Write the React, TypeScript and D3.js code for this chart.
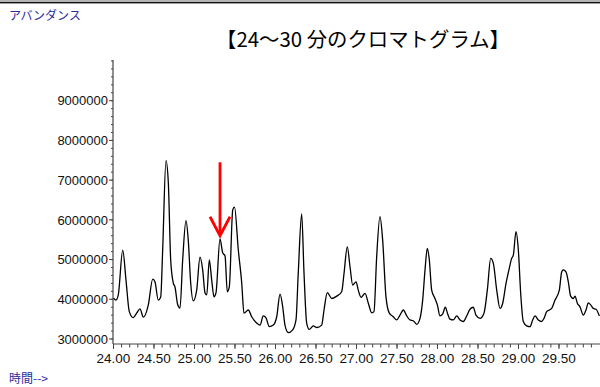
import React from "react";
import * as d3 from "d3";

const W = 600;
const H = 387;

// retention time (min)
const times = [24.000,24.031,24.059,24.114,24.154,24.195,24.244,24.286,24.327,24.368,24.430,24.484,24.512,24.553,24.583,24.607,24.648,24.677,24.706,24.738,24.759,24.793,24.821,24.854,24.895,24.923,24.953,24.985,25.027,25.068,25.101,25.130,25.151,25.183,25.212,25.241,25.265,25.315,25.348,25.377,25.405,25.430,25.472,25.494,25.541,25.583,25.611,25.664,25.706,25.768,25.809,25.849,25.883,25.923,25.973,26.015,26.056,26.089,26.117,26.158,26.212,26.253,26.281,26.323,26.352,26.385,26.417,26.467,26.509,26.570,26.599,26.640,26.694,26.756,26.817,26.846,26.886,26.920,26.953,26.994,27.022,27.056,27.105,27.146,27.188,27.216,27.249,27.290,27.323,27.364,27.405,27.454,27.496,27.537,27.578,27.620,27.660,27.701,27.743,27.784,27.817,27.846,27.874,27.899,27.928,27.969,27.998,28.031,28.064,28.096,28.126,28.154,28.195,28.237,28.278,28.319,28.360,28.401,28.442,28.475,28.525,28.574,28.615,28.657,28.689,28.731,28.772,28.805,28.846,28.886,28.916,28.936,28.969,28.998,29.027,29.059,29.101,29.142,29.175,29.204,29.244,29.286,29.315,29.348,29.410,29.451,29.504,29.533,29.553,29.586,29.615,29.644,29.677,29.698,29.726,29.759,29.800,29.833,29.862,29.891,29.923,29.957,29.998];

// abundance (millions of counts)
const abundanceM = [4.03,3.98,4.11,5.24,4.49,3.69,3.54,3.65,3.76,3.55,3.86,4.51,4.44,3.98,4.06,5.24,7.49,6.93,4.99,4.41,4.31,3.86,3.78,4.99,5.98,5.49,4.41,3.96,4.23,5.06,4.74,4.16,4.11,4.99,4.49,4.06,4.16,5.52,5.17,5.09,4.19,4.32,6.25,6.32,5.24,4.41,3.65,3.73,3.56,3.40,3.35,3.58,3.53,3.31,3.35,3.56,4.13,3.81,3.35,3.16,3.23,3.48,4.66,6.15,4.66,3.40,3.24,3.33,3.29,3.35,3.73,4.17,4.02,4.08,4.19,4.65,5.32,4.82,4.36,4.44,4.23,4.05,4.15,3.90,3.66,3.69,5.07,6.08,5.49,4.06,3.65,3.56,3.48,3.60,3.73,3.58,3.48,3.46,3.37,3.52,3.98,4.74,5.28,4.99,4.23,4.02,3.86,3.58,3.63,3.80,3.63,3.50,3.48,3.58,3.48,3.44,3.58,3.75,3.80,3.60,3.52,3.65,4.23,5.03,4.91,4.23,3.77,3.90,4.40,4.78,5.03,5.11,5.70,5.24,4.15,3.44,3.33,3.31,3.48,3.58,3.48,3.44,3.52,3.69,3.77,3.98,4.23,4.69,4.74,4.69,4.44,4.08,4.02,4.08,3.90,3.81,3.60,3.73,3.91,3.86,3.77,3.75,3.58];

const xMajorTicks = [24.0, 24.5, 25.0, 25.5, 26.0, 26.5, 27.0, 27.5, 28.0, 28.5, 29.0, 29.5];
const xTickLabels = ["24.00","24.50","25.00","25.50","26.00","26.50","27.00","27.50","28.00","28.50","29.00","29.50"];
const yMajorTicks = [3000000, 4000000, 5000000, 6000000, 7000000, 8000000, 9000000];
const yTickLabels = ["3000000","4000000","5000000","6000000","7000000","8000000","9000000"];

const title = "【24～30 分のクロマトグラム】";
const yLabel = "アバンダンス";
const xLabel = "時間-->";

// arrow pointing at the peak of interest
const arrowTime = 25.315;
const arrowTop = 7450000;
const arrowTip = 5600000;

const xDomain = [24, 30];
const yDomain = [2874000, 10000000];

export default function App() {
  const left = 113;
  const right = 599.5;
  const top = 61;
  const bottom = 344;
  const x = d3.scaleLinear().domain(xDomain).range([left + 0.5, right]);
  const y = d3.scaleLinear().domain(yDomain).range([bottom, top]);

  const data = times.map((t, i) => ({ t, v: abundanceM[i] * 1e6 }));
  const line = d3
    .line<{ t: number; v: number }>()
    .x((d) => x(d.t))
    .y((d) => y(d.v))
    .curve(d3.curveMonotoneX);

  const xMinor = d3.range(240, 300).map((k) => k / 10);
  const yMinor = d3.range(15, 51).map((k) => k * 200000);

  const axisColor = "#444";
  const blue = "#2b2b9b";
  const ax = x(arrowTime);
  const aTop = y(arrowTop);
  const aTip = y(arrowTip);

  return (
    <div style={{ position: "absolute", left: 0, top: 0, width: W, height: H, background: "#fff" }}>
      <svg width={W} height={H} style={{ display: "block" }}>
        <rect x={0} y={0} width={W} height={H} fill="#fff" />
        <rect x={0} y={0} width={W} height={2} fill="#b4b4b4" />
        <rect x={0} y={2} width={W} height={1.4} fill="#111" />

        <text x={9} y={20} fontFamily="'Noto Sans CJK JP', sans-serif" fontSize={12} fill={blue}>
          {yLabel}
        </text>
        <text x={9} y={383} fontFamily="'Noto Sans CJK JP', sans-serif" fontSize={12} fill={blue}>
          {xLabel}
        </text>
        <text
          x={363}
          y={47}
          textAnchor="middle"
          fontFamily="'Noto Sans CJK JP', sans-serif"
          fontSize={20.4}
          fill="#000"
        >
          {title}
        </text>

        {/* y axis */}
        <line x1={left} x2={left} y1={top - 1} y2={bottom} stroke={axisColor} strokeWidth={1.2} />
        {yMinor.map((v) => (
          <line key={"ym" + v} x1={left - 2} x2={left} y1={y(v)} y2={y(v)} stroke={axisColor} strokeWidth={1} />
        ))}
        {yMajorTicks.map((v, i) => (
          <g key={"y" + v}>
            <line x1={left - 4} x2={left} y1={y(v)} y2={y(v)} stroke={axisColor} strokeWidth={1} />
            <text
              x={left - 5}
              y={y(v)}
              dy="0.36em"
              textAnchor="end"
              fontFamily="'Liberation Sans', Arial, sans-serif"
              fontSize={13}
              fill="#111"
            >
              {yTickLabels[i]}
            </text>
          </g>
        ))}

        {/* x axis */}
        <line x1={left} x2={W} y1={bottom} y2={bottom} stroke={axisColor} strokeWidth={1.2} />
        {xMinor.map((t) => (
          <line key={"xm" + t} x1={x(t)} x2={x(t)} y1={bottom} y2={bottom + 3.5} stroke={axisColor} strokeWidth={1} />
        ))}
        {xMajorTicks.map((t, i) => (
          <g key={"x" + t}>
            <line x1={x(t)} x2={x(t)} y1={bottom} y2={bottom + 5} stroke={axisColor} strokeWidth={1} />
            <text
              x={x(t)}
              y={363}
              textAnchor="middle"
              fontFamily="'Liberation Sans', Arial, sans-serif"
              fontSize={13.5}
              fill="#111"
            >
              {xTickLabels[i]}
            </text>
          </g>
        ))}

        {/* chromatogram trace */}
        <path d={line(data) || ""} fill="none" stroke="#000" strokeWidth={1.3} strokeLinejoin="round" />

        {/* red arrow */}
        <g stroke="#f00" strokeWidth={2.8} fill="none" strokeLinecap="butt">
          <line x1={ax} x2={ax} y1={aTop} y2={aTip - 1} />
          <polyline points={`${ax - 10},${aTip - 19} ${ax},${aTip} ${ax + 10},${aTip - 19}`} strokeLinejoin="miter" />
        </g>
      </svg>
    </div>
  );
}
